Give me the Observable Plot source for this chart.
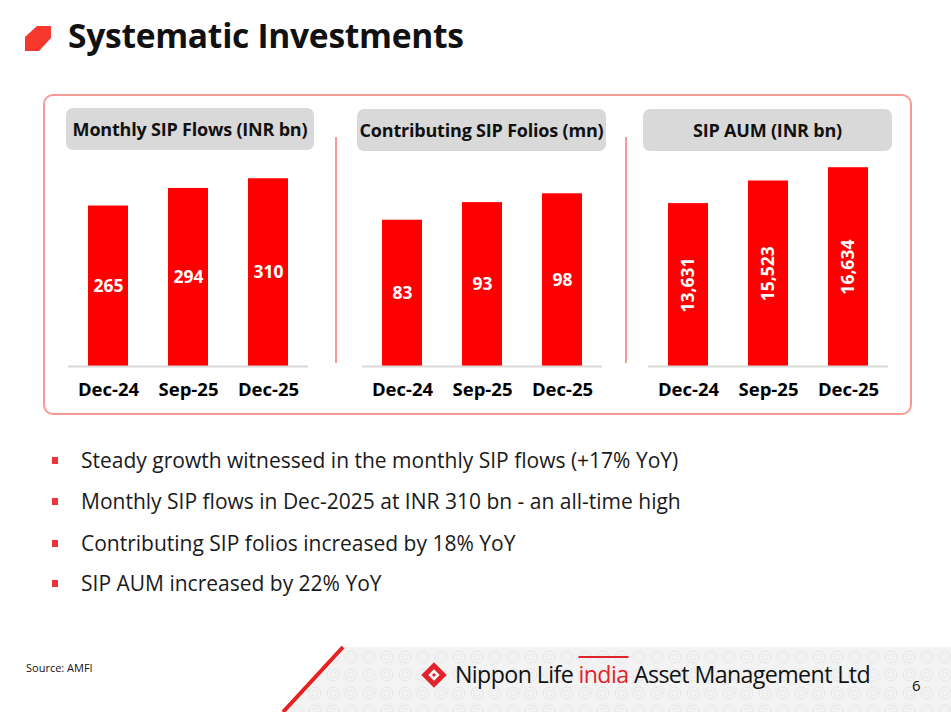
<!DOCTYPE html>
<html>
<head>
<meta charset="utf-8">
<script src="https://cdn.jsdelivr.net/npm/d3@7"></script>
<script src="https://cdn.jsdelivr.net/npm/@observablehq/plot@0.6"></script>
<style>
  html, body { margin: 0; padding: 0; background: #fff; }
  #page { position: relative; width: 951px; height: 712px; overflow: hidden; font-family: "Open Sans", sans-serif; color: #111; }
  .abs { position: absolute; }
  .title { left: 68px; top: 12px; font-size: 33.6px; font-weight: 700; letter-spacing: -0.3px; color: #111; white-space: nowrap; }
  .box { left: 43px; top: 94px; width: 865px; height: 317px; border: 2px solid #f59a97; border-radius: 10px; box-sizing: content-box; }
  .divider { width: 2px; background: #f59a97; top: 137px; height: 226px; }
  .hdr { background: #d9d9d9; border-radius: 7px; height: 42px; display: flex; align-items: center; justify-content: center; font-weight: 700; font-size: 18px; color: #111; white-space: nowrap; letter-spacing: -0.2px; }
  .bullet { left: 81px; font-size: 21px; color: #1a1a1a; white-space: nowrap; }
  .sq { left: 52px; width: 6px; height: 7px; background: #f0333a; }
  .src { left: 26px; top: 660px; font-size: 11px; color: #111; }
  .logo { left: 455px; top: 658px; font-size: 23.2px; color: #111; white-space: nowrap; letter-spacing: -0.6px; font-family: "Open Sans", sans-serif; }
  .logo .ind { color: #e1232d; text-decoration: overline; }
  .pg { left: 912px; top: 675px; font-size: 15px; color: #111; }
</style>
</head>
<body>
<div id="page">
  <svg class="abs" style="left:0;top:0" width="951" height="712">
    <polygon points="37,26 51,26 51,38 39,51 25,51 25,37" fill="#f5372e"/>
    <defs>
      <pattern id="pat" width="18" height="18" patternUnits="userSpaceOnUse">
        <rect width="18" height="18" fill="#f3f3f3"/>
        <circle cx="9" cy="9" r="6" fill="none" stroke="#e6e6e6" stroke-width="1"/>
        <circle cx="9" cy="9" r="3" fill="none" stroke="#eaeaea" stroke-width="1"/>
      </pattern>
    </defs>
    <polygon points="344,647 951,647 951,712 284,712" fill="url(#pat)"/>
    <line x1="343" y1="647" x2="283" y2="712" stroke="#e8201f" stroke-width="4"/>
    <g transform="translate(434,675) rotate(45)">
      <rect x="-9" y="-9" width="18" height="18" fill="#e1232d"/>
      <rect x="-4" y="-4" width="8" height="8" fill="#fff"/>
      <rect x="-1.5" y="-1.5" width="3" height="3" fill="#e1232d"/>
    </g>
  </svg>
  <div class="abs title">Systematic Investments</div>
  <div class="abs box"></div>
  <div class="abs divider" style="left:335px"></div>
  <div class="abs divider" style="left:625px"></div>
  <div id="hdr0" class="abs hdr" style="left:66px;top:108px;width:248px"></div>
  <div id="hdr1" class="abs hdr" style="left:357px;top:109px;width:249px"></div>
  <div id="hdr2" class="abs hdr" style="left:643px;top:109px;width:249px"></div>
  <div id="c0" class="abs" style="left:48px;top:151px"></div>
  <div id="c1" class="abs" style="left:342px;top:151px"></div>
  <div id="c2" class="abs" style="left:628px;top:151px"></div>
  <div id="bullets"></div>
  <div class="abs src">Source: AMFI</div>
  <div class="abs logo">Nippon Life <span class="ind">india</span> Asset Management Ltd</div>
  <div class="abs pg">6</div>
</div>
<script>
const months = ["Dec-24", "Sep-25", "Dec-25"];
const sipFlows = [265, 294, 310];
const sipFolios = [83, 93, 98];
const sipAum = [13631, 15523, 16634];
const panelTitles = ["Monthly SIP Flows (INR bn)", "Contributing SIP Folios (mn)", "SIP AUM (INR bn)"];
const bulletTexts = [
  "Steady growth witnessed in the monthly SIP flows (+17% YoY)",
  "Monthly SIP flows in Dec-2025 at INR 310 bn - an all-time high",
  "Contributing SIP folios increased by 18% YoY",
  "SIP AUM increased by 22% YoY"
];

panelTitles.forEach((t, i) => { document.getElementById("hdr" + i).textContent = t; });

const bl = document.getElementById("bullets");
const bulletY = [461, 502, 544, 584];
bulletTexts.forEach((t, i) => {
  const d = document.createElement("div");
  d.className = "abs bullet";
  d.style.top = (bulletY[i] - 15) + "px";
  d.textContent = t;
  bl.appendChild(d);
  const s = document.createElement("div");
  s.className = "abs sq";
  s.style.top = (bulletY[i] - 4) + "px";
  bl.appendChild(s);
});

function barChart(values, yMax, fmt, rotate) {
  const data = months.map((m, i) => ({month: m, value: values[i]}));
  return Plot.plot({
    width: 290, height: 260,
    marginLeft: 20, marginRight: 30, marginTop: 0, marginBottom: 45,
    style: {fontFamily: "Open Sans, sans-serif", background: "transparent", overflow: "visible", color: "#000"},
    x: {domain: months, paddingInner: 0.5, paddingOuter: 0.25, axis: null},
    y: {domain: [0, yMax], axis: null},
    marks: [
      Plot.barY(data, {x: "month", y: "value", fill: "#ff0000"}),
      Plot.ruleY([0], {stroke: "#d9d9d9", strokeWidth: 2}),
      Plot.text(data, {x: "month", y: d => d.value / 2, text: d => fmt(d.value), fill: "white", fontWeight: "bold", fontSize: 17.5, rotate: rotate}),
      Plot.axisX({tickSize: 0, tickPadding: 16, fontSize: 18.5, fontWeight: "bold", fill: "#000", label: null})
    ]
  });
}

const plain = d3.format("d");
const comma = d3.format(",");
document.getElementById("c0").appendChild(barChart(sipFlows, 355, plain, 0));
document.getElementById("c1").appendChild(barChart(sipFolios, 122, plain, 0));
document.getElementById("c2").appendChild(barChart(sipAum, 17992, comma, -90));
</script>
</body>
</html>
